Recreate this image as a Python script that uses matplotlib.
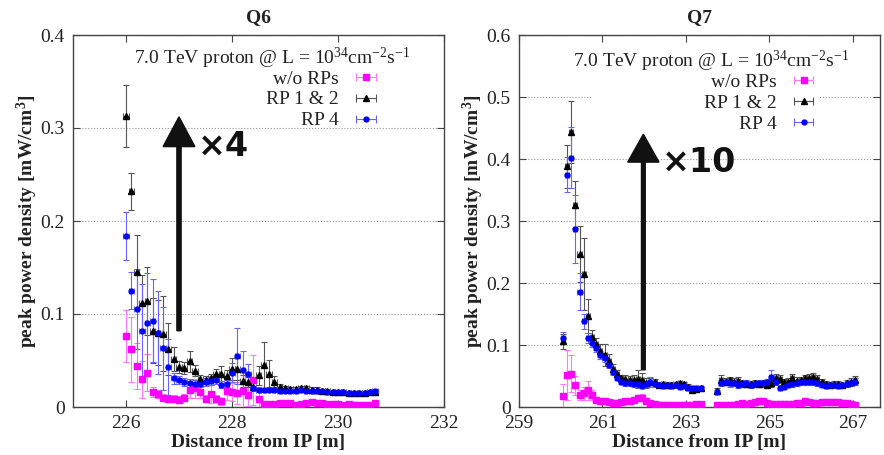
import numpy as np
import matplotlib
matplotlib.use("Agg")
import matplotlib.pyplot as plt
from matplotlib.patches import Rectangle
from matplotlib.ticker import FuncFormatter

plt.rcParams['font.family'] = ['Liberation Serif', 'DejaVu Serif']
plt.rcParams['mathtext.fontset'] = 'custom'
plt.rcParams['mathtext.rm'] = 'Liberation Serif'
plt.rcParams['mathtext.it'] = 'Liberation Serif:italic'
plt.rcParams['mathtext.bf'] = 'Liberation Serif:bold'

# ---- Q6 data (bins of 0.1 m) ----
q6_x = np.round(np.arange(226.0, 230.75, 0.1), 2)

q6_noRP = [0.076, 0.062, 0.044, 0.030, 0.037, 0.016, 0.014, 0.010, 0.009, 0.009,
           0.008, 0.010, 0.018, 0.020, 0.016, 0.009, 0.014, 0.009, 0.006, 0.017,
           0.016, 0.015, 0.017, 0.013, 0.029, 0.009, 0.003, 0.003, 0.003, 0.004,
           0.004, 0.004, 0.002, 0.003, 0.004, 0.005, 0.004, 0.004, 0.003, 0.003,
           0.003, 0.002, 0.003, 0.002, 0.002, 0.002, 0.002, 0.004]
q6_noRP_err = [0.028, 0.035, 0.025, 0.020, 0.020, 0.005, 0.004, 0.004, 0.004, 0.004,
               0.004, 0.004, 0.008, 0.010, 0.006, 0.004, 0.010, 0.004, 0.004, 0.010,
               0.010, 0.012, 0.020, 0.012, 0.027, 0.012, 0.001, 0.001, 0.001, 0.001,
               0.001, 0.001, 0.001, 0.001, 0.001, 0.001, 0.001, 0.001, 0.001, 0.001,
               0.001, 0.001, 0.001, 0.001, 0.001, 0.001, 0.001, 0.001]

q6_rp12 = [0.313, 0.232, 0.145, 0.112, 0.114, 0.082, 0.080, 0.079, 0.062, 0.052,
           0.043, 0.042, 0.049, 0.039, 0.030, 0.029, 0.031, 0.035, 0.036, 0.033,
           0.041, 0.041, 0.028, 0.027, 0.022, 0.034, 0.045, 0.036, 0.027, 0.022,
           0.020, 0.019, 0.019, 0.020, 0.020, 0.018, 0.018, 0.017, 0.017, 0.016,
           0.016, 0.016, 0.015, 0.015, 0.015, 0.015, 0.016, 0.016]
q6_rp12_err = [0.033, 0.020, 0.040, 0.030, 0.037, 0.035, 0.035, 0.040, 0.028, 0.013,
               0.006, 0.006, 0.011, 0.006, 0.004, 0.004, 0.004, 0.006, 0.008, 0.007,
               0.012, 0.012, 0.006, 0.005, 0.004, 0.010, 0.025, 0.015, 0.006, 0.003,
               0.003, 0.003, 0.003, 0.003, 0.003, 0.003, 0.003, 0.002, 0.002, 0.002,
               0.002, 0.002, 0.002, 0.002, 0.002, 0.002, 0.002, 0.002]

q6_rp4 = [0.184, 0.125, 0.105, 0.082, 0.090, 0.093, 0.080, 0.063, 0.043, 0.031,
          0.029, 0.027, 0.026, 0.025, 0.025, 0.027, 0.028, 0.029, 0.024, 0.025,
          0.037, 0.055, 0.040, 0.036, 0.020, 0.018, 0.018, 0.018, 0.018, 0.017,
          0.017, 0.017, 0.017, 0.018, 0.017, 0.017, 0.017, 0.017, 0.016, 0.016,
          0.016, 0.016, 0.015, 0.015, 0.015, 0.015, 0.016, 0.017]
q6_rp4_err = [0.026, 0.020, 0.043, 0.050, 0.054, 0.045, 0.045, 0.045, 0.030, 0.006,
              0.004, 0.004, 0.004, 0.004, 0.004, 0.004, 0.004, 0.004, 0.004, 0.004,
              0.010, 0.030, 0.020, 0.010, 0.003, 0.002, 0.002, 0.002, 0.002, 0.002,
              0.002, 0.002, 0.002, 0.002, 0.002, 0.002, 0.002, 0.002, 0.002, 0.002,
              0.002, 0.002, 0.002, 0.002, 0.002, 0.002, 0.002, 0.002]

# ---- Q7 data (two stretches of 0.1 m bins) ----
q7_x = np.round(np.concatenate([np.arange(260.05, 263.40, 0.1),
                                np.arange(263.75, 267.10, 0.1)]), 2)

q7_noRP = [0.017, 0.052, 0.054, 0.035, 0.019, 0.022, 0.027, 0.019, 0.012, 0.010,
           0.009, 0.008, 0.007, 0.007, 0.008, 0.009, 0.009, 0.011, 0.014, 0.015,
           0.010, 0.007, 0.005, 0.004, 0.004, 0.004, 0.004, 0.004, 0.004, 0.004,
           0.004, 0.004, 0.005, 0.005,
           0.003, 0.003, 0.003, 0.004, 0.004, 0.005, 0.006, 0.005, 0.006, 0.008,
           0.010, 0.009, 0.007, 0.005, 0.005, 0.005, 0.005, 0.005, 0.005, 0.006,
           0.006, 0.010, 0.008, 0.007, 0.007, 0.008, 0.008, 0.008, 0.008, 0.008,
           0.007, 0.007, 0.005, 0.004]
q7_noRP_err = [0.020, 0.040, 0.030, 0.015, 0.008, 0.010, 0.015, 0.008, 0.004, 0.003,
               0.003, 0.002, 0.002, 0.002, 0.002, 0.002, 0.002, 0.003, 0.005, 0.006,
               0.003, 0.002, 0.002, 0.001, 0.001, 0.001, 0.001, 0.001, 0.001, 0.001,
               0.001, 0.001, 0.001, 0.001,
               0.001, 0.001, 0.001, 0.001, 0.001, 0.001, 0.002, 0.001, 0.002, 0.003,
               0.004, 0.003, 0.002, 0.001, 0.001, 0.001, 0.001, 0.001, 0.001, 0.002,
               0.002, 0.004, 0.003, 0.002, 0.002, 0.002, 0.002, 0.002, 0.002, 0.002,
               0.002, 0.002, 0.001, 0.001]

q7_rp12 = [0.106, 0.388, 0.444, 0.326, 0.247, 0.215, 0.147, 0.113, 0.102, 0.091,
           0.084, 0.075, 0.062, 0.054, 0.046, 0.045, 0.044, 0.043, 0.045, 0.043,
           0.038, 0.041, 0.040, 0.036, 0.037, 0.036, 0.036, 0.037, 0.038, 0.037,
           0.033, 0.028, 0.029, 0.030,
           0.026, 0.043, 0.041, 0.043, 0.040, 0.042, 0.039, 0.037, 0.037, 0.038,
           0.037, 0.038, 0.036, 0.038, 0.047, 0.045, 0.040, 0.041, 0.046, 0.042,
           0.043, 0.046, 0.047, 0.048, 0.045, 0.040, 0.037, 0.036, 0.037, 0.037,
           0.036, 0.038, 0.040, 0.043]
q7_rp12_err = [0.012, 0.035, 0.050, 0.038, 0.045, 0.058, 0.027, 0.012, 0.010, 0.010,
               0.018, 0.010, 0.008, 0.006, 0.006, 0.006, 0.006, 0.008, 0.015, 0.012,
               0.008, 0.006, 0.005, 0.004, 0.004, 0.004, 0.004, 0.004, 0.004, 0.004,
               0.004, 0.004, 0.004, 0.004,
               0.004, 0.008, 0.006, 0.006, 0.006, 0.006, 0.005, 0.005, 0.005, 0.005,
               0.005, 0.005, 0.005, 0.005, 0.006, 0.006, 0.005, 0.005, 0.007, 0.006,
               0.006, 0.006, 0.007, 0.007, 0.006, 0.005, 0.005, 0.005, 0.005, 0.005,
               0.005, 0.005, 0.006, 0.007]

q7_rp4 = [0.111, 0.375, 0.402, 0.287, 0.186, 0.138, 0.112, 0.103, 0.095, 0.084,
          0.079, 0.068, 0.057, 0.047, 0.041, 0.038, 0.038, 0.037, 0.037, 0.034,
          0.037, 0.041, 0.037, 0.036, 0.034, 0.035, 0.034, 0.035, 0.033, 0.034,
          0.030, 0.030, 0.031, 0.030,
          0.025, 0.039, 0.040, 0.038, 0.039, 0.036, 0.037, 0.038, 0.036, 0.037,
          0.038, 0.038, 0.040, 0.049, 0.041, 0.031, 0.033, 0.036, 0.037, 0.038,
          0.040, 0.041, 0.041, 0.040, 0.038, 0.036, 0.034, 0.035, 0.035, 0.034,
          0.036, 0.037, 0.039, 0.041]
q7_rp4_err = [0.010, 0.029, 0.049, 0.055, 0.030, 0.012, 0.008, 0.006, 0.006, 0.006,
              0.006, 0.005, 0.005, 0.004, 0.004, 0.004, 0.004, 0.004, 0.004, 0.004,
              0.004, 0.008, 0.004, 0.004, 0.004, 0.004, 0.004, 0.004, 0.004, 0.004,
              0.003, 0.003, 0.003, 0.003,
              0.003, 0.005, 0.005, 0.005, 0.005, 0.005, 0.005, 0.005, 0.005, 0.005,
              0.005, 0.005, 0.005, 0.011, 0.005, 0.004, 0.004, 0.004, 0.004, 0.004,
              0.004, 0.005, 0.005, 0.005, 0.004, 0.004, 0.004, 0.004, 0.004, 0.004,
              0.004, 0.004, 0.005, 0.006]

labels = ['w/o RPs', 'RP 1 & 2', 'RP 4']
# colour, errorbar colour, marker, marker size
styles = [('#ff00ff', '#ff77ff', 's', 4.5),
          ('#000000', '#555555', '^', 4.0),
          ('#0000ff', '#6666ff', 'o', 3.5)]

key_title = '7.0 TeV proton @ L = 10$^{34}$cm$^{-2}$s$^{-1}$'
TXT = '#222222'


def yfmt(v, pos):
    if abs(v) < 1e-9:
        return '0'
    return f'{v:.1f}'


def draw_panel(ax, title, x, series, errs, xlim, ylim, xticks, yticks,
               arrow, factor, key_pos):
    ax.set_xlim(*xlim)
    ax.set_ylim(*ylim)
    ax.set_xticks(xticks)
    ax.set_yticks(yticks)
    ax.yaxis.set_major_formatter(FuncFormatter(yfmt))
    ax.yaxis.grid(True, linestyle=':', color='#999999', linewidth=0.8, zorder=0)
    ax.set_axisbelow(True)
    ax.tick_params(direction='in', top=True, right=True, length=5, width=0.8,
                   labelsize=14, colors='#444444', labelcolor=TXT, pad=6)
    for sp in ax.spines.values():
        sp.set_color('#444444')
        sp.set_linewidth(1.0)

    # key box covers the grid like gnuplot's opaque key
    kx0, kx1, ky0, ky1 = key_pos['box']
    ax.add_patch(Rectangle((kx0, ky0), kx1 - kx0, ky1 - ky0, transform=ax.transAxes,
                           facecolor='white', edgecolor='none', zorder=1))

    for vals, e, (c, ec, m, ms) in zip(series, errs, styles):
        ax.errorbar(x, vals, yerr=e, xerr=0.05, fmt=m, ms=ms, mfc=c, mec=c,
                    ecolor=ec, elinewidth=0.8, capsize=2.5, capthick=0.8, zorder=3)

    # proxy handles for the key (horizontal bar like gnuplot)
    handles = []
    for lab, (c, ec, m, ms) in zip(labels, styles):
        h = ax.errorbar([np.nan], [np.nan], xerr=[1.0], fmt=m, ms=ms, mfc=c, mec=c,
                        ecolor=ec, elinewidth=0.8, capsize=3, capthick=0.8, label=lab)
        handles.append(h)
    ax.legend(handles=handles, loc='upper right', bbox_to_anchor=key_pos['anchor'],
              markerfirst=False, frameon=False, fontsize=14, handlelength=1.9,
              handletextpad=0.45, labelspacing=0.17, borderpad=0, borderaxespad=0,
              labelcolor=TXT)
    ax.text(key_pos['title'][0], key_pos['title'][1], key_title, transform=ax.transAxes,
            ha='center', va='center', fontsize=14, color=TXT, zorder=4)

    # big "scale factor" arrow
    ax_x, y0, y1, hw, hl, w = arrow
    ax.arrow(ax_x, y0, 0, y1 - y0, width=w, head_width=hw, head_length=hl,
             length_includes_head=True, color='#111111', zorder=5)
    ax.text(factor[0], factor[1], factor[2], fontsize=24, fontweight='bold',
            family='DejaVu Sans', va='center', ha='left', color='#111111', zorder=5)

    ax.set_title(title, fontsize=14, fontweight='bold', pad=9, color=TXT)
    ax.set_xlabel('Distance from IP [m]', fontsize=14, fontweight='bold', color=TXT,
                  labelpad=1)
    ax.set_ylabel('peak power density [mW/cm$^{\\mathbf{3}}$]', fontsize=14,
                  fontweight='bold', color=TXT, labelpad=0)


fig = plt.figure(figsize=(8.84, 4.55), dpi=100)
ax1 = fig.add_axes([73 / 884, 1 - 407 / 455, 371 / 884, 372 / 455])
ax2 = fig.add_axes([519 / 884, 1 - 407 / 455, 361 / 884, 372 / 455])

draw_panel(ax1, 'Q6', q6_x, [q6_noRP, q6_rp12, q6_rp4],
           [q6_noRP_err, q6_rp12_err, q6_rp4_err],
           (225, 232), (0, 0.4), [226, 228, 230, 232],
           [0, 0.1, 0.2, 0.3, 0.4],
           (227.0, 0.082, 0.312, 0.60, 0.032, 0.08),
           (227.35, 0.28, '×4'),
           {'box': (0.16, 0.90, 0.76, 0.97), 'anchor': (0.84, 0.906),
            'title': (0.536, 0.938)})

draw_panel(ax2, 'Q7', q7_x, [q7_noRP, q7_rp12, q7_rp4],
           [q7_noRP_err, q7_rp12_err, q7_rp4_err],
           (259, 267.65), (0, 0.6), [259, 261, 263, 265, 267],
           [0, 0.1, 0.2, 0.3, 0.4, 0.5, 0.6],
           (261.98, 0.06, 0.44, 0.75, 0.045, 0.09),
           (262.42, 0.395, '×10'),
           {'box': (0.205, 0.835, 0.75, 0.97), 'anchor': (0.84, 0.897),
            'title': (0.532, 0.930)})

fig.savefig('out.png', dpi=100)
